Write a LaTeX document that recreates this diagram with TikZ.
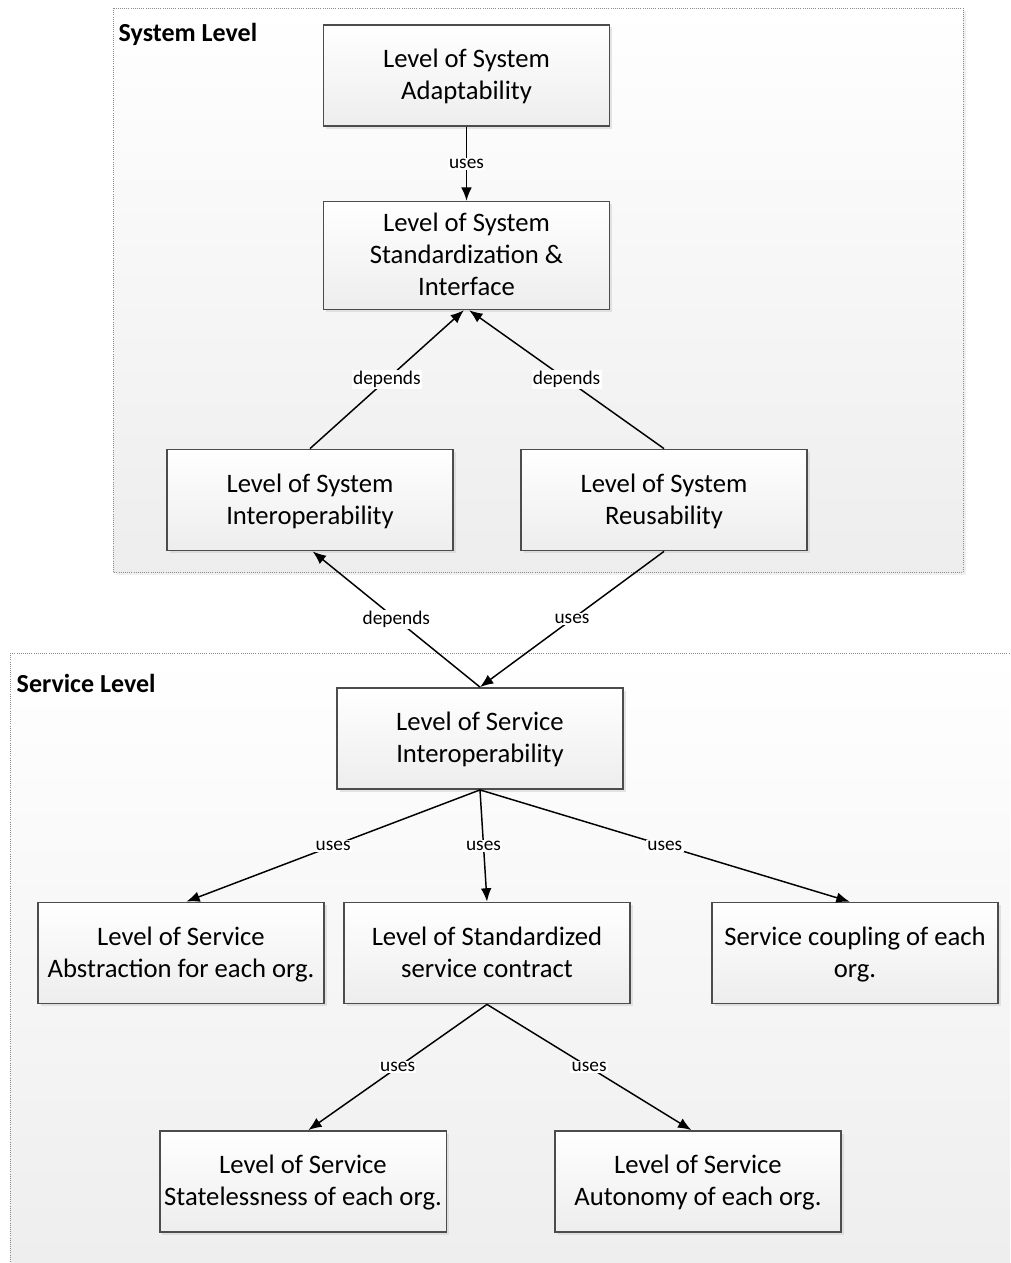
\documentclass[tikz,border=0pt]{standalone}
\usepackage{fontspec}
\setmainfont{Carlito}
\usetikzlibrary{arrows.meta,shadows}
\newcommand\lstrut{\rule[-5.7pt]{0pt}{24pt}}
\tikzset{
  box/.style={draw=black!70, top color=white, bottom color=black!7,
    minimum width=214.5pt, minimum height=76pt, inner ysep=4.5pt, align=center,
    font=\fontsize{20}{24}\selectfont,
    drop shadow={shadow xshift=2pt, shadow yshift=-2pt, fill=black!20}},
  lbl/.style={fill=white, inner sep=1pt, font=\fontsize{14.5}{16}\selectfont},
  group/.style={draw=black!45, densely dotted, top color=white, bottom color=black!7},
  grouptitle/.style={anchor=west, inner sep=0pt, font=\fontsize{19.5}{24}\selectfont\bfseries},
  >={Latex[length=10pt,width=8pt]}
}
\begin{document}
\begin{tikzpicture}[x=0.75pt,y=-0.75pt,line width=1.1pt]
\clip (0,0) rectangle (1010,1263);
\fill[white] (0,0) rectangle (1010,1263);
%
% containers
\draw[group, drop shadow={shadow xshift=2.5pt, shadow yshift=-2.5pt, fill=black!12}, line width=0.6pt] (113,8) rectangle (963,572);
\node[grouptitle] (systitle) at (118,34) {System Level};
\draw[group, line width=0.6pt] (10,653) rectangle (1030,1290);
\node[grouptitle] (svctitle) at (16,683) {Service Level};
%
% system level
\node[box] (adapt) at (466.5,75.5) {\lstrut Level of System\\Adaptability\lstrut};
\node[box] (std) at (466.5,255.5) {\lstrut Level of System\\Standardization \&\\Interface\lstrut};
\node[box] (sysint) at (310,500) {\lstrut Level of System\\Interoperability\lstrut};
\node[box] (reuse) at (664,500) {\lstrut Level of System\\Reusability\lstrut};
%
% service level
\node[box] (svcint) at (480,738.5) {\lstrut Level of Service\\Interoperability\lstrut};
\node[box] (abstr) at (181,953) {\lstrut Level of Service\\Abstraction for each org.\lstrut};
\node[box] (contract) at (487,953) {\lstrut Level of Standardized\\service contract\lstrut};
\node[box] (coupling) at (855,953) {\lstrut Service coupling of each\\org.\lstrut};
\node[box] (stateless) at (303,1181.5) {\lstrut Level of Service\\Statelessness of each org.\lstrut};
\node[box] (autonomy) at (698,1181.5) {\lstrut Level of Service\\Autonomy of each org.\lstrut};
%
\draw[->] (adapt) -- node[lbl]{uses} (std);
\draw[->] (sysint.north) -- node[lbl]{depends} ([xshift=-2pt]std.south);
\draw[->] (reuse.north) -- node[lbl]{depends} ([xshift=2pt]std.south);
\draw[->] (svcint.north) -- node[lbl]{depends} ([xshift=2pt]sysint.south);
\draw[->] (reuse.south) -- node[lbl]{uses} (svcint.north);
\draw[->] (svcint.south) -- node[lbl]{uses} ([xshift=4pt]abstr.north);
\draw[->] (svcint.south) -- node[lbl]{uses} (contract.north);
\draw[->] (svcint.south) -- node[lbl]{uses} ([xshift=-4pt]coupling.north);
\draw[->] (contract.south) -- node[lbl]{uses} ([xshift=4pt]stateless.north);
\draw[->] (contract.south) -- node[lbl]{uses} ([xshift=-5pt]autonomy.north);
\end{tikzpicture}
\end{document}
